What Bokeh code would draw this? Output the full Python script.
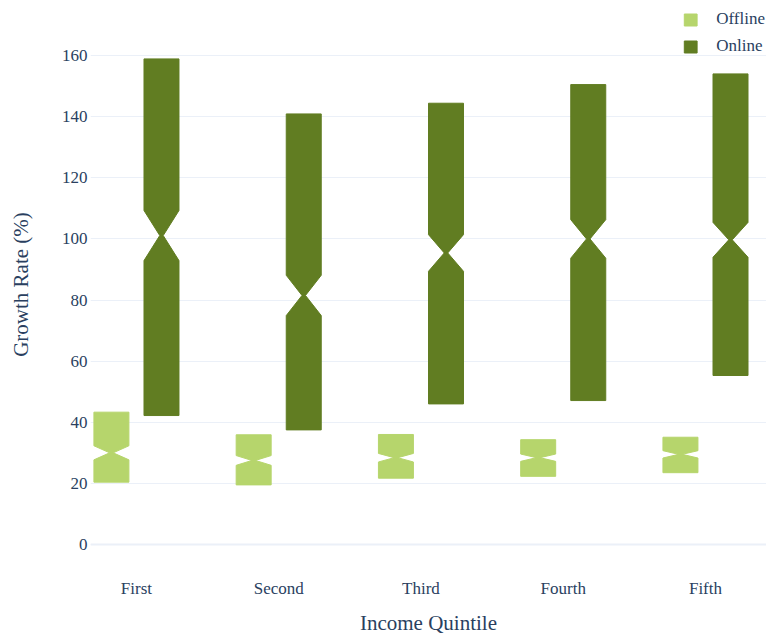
from bokeh.plotting import figure
from bokeh.models import Range1d, FixedTicker, ColumnDataSource, Legend, LegendItem
from bokeh.embed import file_html
from bokeh.resources import INLINE

# Notched box summaries of growth rate (%) by income quintile
quintiles = ["First", "Second", "Third", "Fourth", "Fifth"]

offline_q1 = [20.4, 19.5, 21.7, 22.3, 23.5]
offline_median = [30.0, 27.5, 28.4, 28.4, 29.5]
offline_q3 = [43.3, 35.9, 36.0, 34.3, 35.1]
offline_notch = [2.3, 1.6, 1.4, 1.2, 1.2]

online_q1 = [42.2, 37.5, 46.0, 47.1, 55.3]
online_median = [101.1, 81.5, 95.4, 100.0, 99.7]
online_q3 = [158.9, 140.9, 144.4, 150.5, 154.0]
online_notch = [8.2, 6.6, 6.0, 6.3, 5.7]

y_ticks = [0, 20, 40, 60, 80, 100, 120, 140, 160]

FONT = "Liberation Serif"
TEXT = "#2a3f5f"
GRID = "#ebf0f8"
OFFLINE_COLOR = "#b6d56c"
ONLINE_COLOR = "#617d22"

X_MIN, X_MAX = -0.323, 4.429
Y_MIN, Y_MAX = -5.24, 175.4

HALF_W = 0.123     # half box width in category units
OFFSET = 0.176     # side-by-side offset of each group
NOTCH_IN = 0.1     # fraction of half width left at the median


def notched_boxes(q1s, meds, q3s, notches, shift):
    xs, ys = [], []
    for i, (q1, m, q3, n) in enumerate(zip(q1s, meds, q3s, notches)):
        c = i + shift
        w = HALF_W
        wn = HALF_W * NOTCH_IN
        xs.append([c - w, c + w, c + w, c + wn, c + w, c + w,
                   c - w, c - w, c - wn, c - w])
        ys.append([q1, q1, m - n, m, m + n, q3,
                   q3, m + n, m, m - n])
    return ColumnDataSource(dict(xs=xs, ys=ys))


p = figure(
    width=766, height=637,
    x_range=Range1d(X_MIN, X_MAX),
    y_range=Range1d(Y_MIN, Y_MAX),
    output_backend="svg", toolbar_location=None,
    min_border_left=90, min_border_right=0,
    min_border_top=8, min_border_bottom=77,
)
p.outline_line_color = None
p.background_fill_color = "white"

off_src = notched_boxes(offline_q1, offline_median, offline_q3, offline_notch, -OFFSET)
on_src = notched_boxes(online_q1, online_median, online_q3, online_notch, OFFSET)

r_off = p.patches("xs", "ys", source=off_src, fill_color=OFFLINE_COLOR,
                  line_color=OFFLINE_COLOR, line_width=1)
r_on = p.patches("xs", "ys", source=on_src, fill_color=ONLINE_COLOR,
                 line_color=ONLINE_COLOR, line_width=1)

# zero line slightly heavier than the grid
p.line([X_MIN, X_MAX], [0, 0], line_color=GRID, line_width=2, level="underlay")

# axes
p.xaxis.ticker = FixedTicker(ticks=list(range(len(quintiles))))
p.xaxis.major_label_overrides = {i: q for i, q in enumerate(quintiles)}
p.yaxis.ticker = FixedTicker(ticks=y_ticks)
p.xgrid.grid_line_color = None
p.ygrid.grid_line_color = GRID
p.ygrid.grid_line_width = 1

for ax in (p.xaxis[0], p.yaxis[0]):
    ax.axis_line_color = None
    ax.major_tick_line_color = None
    ax.minor_tick_line_color = None
    ax.major_label_text_font = FONT
    ax.major_label_text_font_size = "17px"
    ax.major_label_text_color = TEXT
    ax.axis_label_text_font = FONT
    ax.axis_label_text_font_size = "21px"
    ax.axis_label_text_font_style = "normal"
    ax.axis_label_text_color = TEXT

p.xaxis.axis_label = "Income Quintile"
p.xaxis.major_label_standoff = 12
p.xaxis.axis_label_standoff = 10
p.yaxis.axis_label = "Growth Rate (%)"
p.yaxis.major_label_standoff = -3
p.yaxis.axis_label_standoff = 26

legend = Legend(
    items=[LegendItem(label="Offline", renderers=[r_off]),
           LegendItem(label="Online", renderers=[r_on])],
    location="top_right",
    background_fill_alpha=0,
    border_line_alpha=0,
    label_text_font=FONT,
    label_text_font_size="17px",
    label_text_color=TEXT,
    glyph_width=16, glyph_height=15,
    label_standoff=18,
    spacing=7,
    padding=0, margin=1,
)
p.add_layout(legend)

open("out.html", "w").write(file_html(p, INLINE))
